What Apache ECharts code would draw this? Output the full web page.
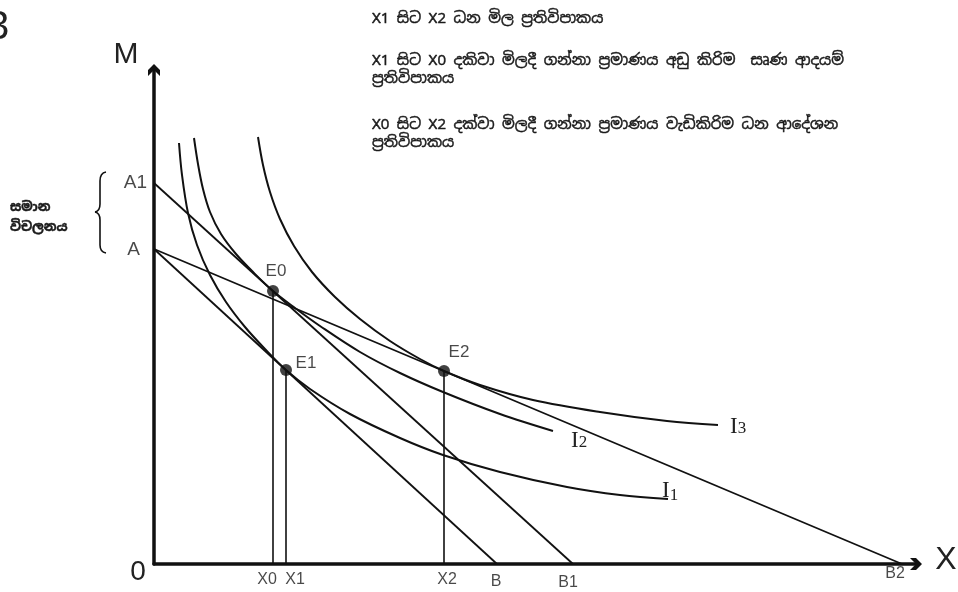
<!DOCTYPE html>
<html>
<head>
<meta charset="utf-8">
<script src="https://cdn.jsdelivr.net/npm/echarts@6/dist/echarts.min.js"></script>
<style>
html,body{margin:0;padding:0;background:#fff;}
#c{width:958px;height:592px;}
</style>
</head>
<body>
<div id="c"></div>
<script>
// ---- data (axis units) ----
const interceptA = 31.5;   // A  on M axis
const interceptA1 = 38.1;  // A1 on M axis
const interceptB = 34.3;   // B  on X axis
const interceptB1 = 41.9;  // B1 on X axis
const interceptB2 = 74.8;  // B2 on X axis

const pointNames = ['E0', 'E1', 'E2'];
const pointX = [11.9, 13.2, 29.0];
const pointY = [27.3, 19.4, 19.3];

const curveI1 = [[2.5,42.1],[2.8,38.9],[3.4,35.1],[4.3,31.9],[5.6,28.9],[7.2,26.2],[9.1,23.7],[11.1,21.5],[13.2,19.4],[15.6,17.5],[19.6,15.0],[24.6,12.6],[28.9,10.9],[34.6,9.2],[41.3,7.7],[46.6,6.9],[51.4,6.5]];
const curveI2 = [[4.0,42.6],[4.4,40.0],[4.9,37.5],[5.6,35.2],[6.7,33.0],[8.2,31.0],[10.0,29.1],[11.9,27.3],[14.1,25.6],[16.6,23.8],[20.6,21.2],[24.6,19.1],[28.9,17.2],[34.6,15.0],[39.9,13.3]];
const curveI3 = [[10.4,42.7],[10.9,39.9],[11.6,37.2],[12.6,34.5],[14.0,31.8],[15.8,29.2],[18.1,26.7],[20.6,24.5],[23.6,22.3],[26.6,20.5],[29.0,19.3],[32.6,17.9],[37.9,16.4],[44.6,15.2],[51.3,14.3],[56.4,13.9]];

const xTickLabels = ['X0', 'X1', 'X2', 'B', 'B1', 'B2'];
const xTickValues = [11.9, 13.2, 29.0, 34.3, 41.9, 74.8];
const yTickLabels = ['A', 'A1'];
const yTickValues = [31.5, 38.1];

const noteLines = [
  'X1 සිට X2 ධන මිල ප්‍රතිවිපාකය',
  'X1 සිට X0 දකිවා මිලදී ගන්නා ප්‍රමාණය අඩු කිරිම  සෘණ ආදයම්',
  'ප්‍රතිවිපාකය',
  'X0 සිට X2 දක්වා මිලදී ගන්නා ප්‍රමාණය වැඩිකිරිම ධන ආදේශන',
  'ප්‍රතිවිපාකය'
];
const braceLines = ['සමාන', 'විචලනය'];

// ---- styles ----
const INK = '#111';
const SIN = '"Noto Sans Sinhala","Iskoola Pota","Noto Sans","DejaVu Sans",sans-serif';
const LAB = '"Liberation Sans Narrow","Liberation Sans","DejaVu Sans",sans-serif';
const xLabelOffsets = [[-6,0],[9,0],[3,0],[-1,2],[-5,3],[-7,-6]];
const yLabelOffsets = [[-7,1],[0,0]];
const pointLabelOffsets = [[3,1],[20,14],[15,2]];
const noteY = [19, 61, 79, 125, 143];

function seg(data, w) {
  return {type: 'line', data: data, symbol: 'none', silent: true,
          lineStyle: {color: INK, width: w || 1.8}, z: 3};
}
function curve(data, sub, off, lower) {
  return {type: 'line', data: data, symbol: 'none', smooth: 0.35, silent: true,
          lineStyle: {color: INK, width: 2}, z: 3,
          endLabel: {show: true, formatter: '{i|I}{d|' + sub + '}', offset: off,
            rich: {i: {fontFamily: '"Liberation Serif","DejaVu Serif",serif', fontSize: 23, color: '#222'},
                   d: {fontFamily: '"Liberation Serif","DejaVu Serif",serif', fontSize: 17, color: '#222',
                       padding: [lower ? 10 : 4, 0, 0, 0]}}}};
}

const arrowUp = 'path://M5,0 L10,5 L10,10 L5,5 L0,10 L0,5 Z';
const braceStyle = {stroke: INK, fill: null, lineWidth: 1.6};
const noteStyle = {fill: '#1a1a1a', stroke: '#1a1a1a', lineWidth: 0.45, verticalAlign: 'middle'};

const option = {
  animation: false,
  backgroundColor: '#fff',
  grid: {left: 154, right: 40, top: 67, bottom: 28},
  xAxis: {type: 'value', min: 0, max: 76.4,
    axisLine: {show: true, onZero: false, lineStyle: {color: INK, width: 3.5},
      symbol: ['none', arrowUp], symbolSize: [20, 12], symbolOffset: [0, -2]},
    axisTick: {show: false}, axisLabel: {show: false}, splitLine: {show: false}},
  yAxis: {type: 'value', min: 0, max: 49.7,
    axisLine: {show: true, onZero: false, lineStyle: {color: INK, width: 3.5},
      symbol: ['none', arrowUp], symbolSize: [22, 12], symbolOffset: [0, -3]},
    axisTick: {show: false}, axisLabel: {show: false}, splitLine: {show: false}},
  series: [
    seg([[0, interceptA], [interceptB, 0]]),
    seg([[0, interceptA1], [interceptB1, 0]]),
    seg([[0, interceptA], [interceptB2, 0]]),
    seg([[pointX[0], pointY[0]], [pointX[0], 0]], 1.6),
    seg([[pointX[1], pointY[1]], [pointX[1], 0]], 1.6),
    seg([[pointX[2], pointY[2]], [pointX[2], 0]], 1.6),
    curve(curveI1, '1', [-14, -8], true),
    curve(curveI2, '2', [10, 10], false),
    curve(curveI3, '3', [4, 2], false),
    {type: 'scatter', silent: true, z: 5, symbolSize: 12, itemStyle: {color: INK},
      data: pointNames.map((n, i) => ({value: [pointX[i], pointY[i]], name: n,
        label: {offset: pointLabelOffsets[i]}})),
      label: {show: true, position: 'top', formatter: '{b}', distance: 6,
        fontFamily: LAB, fontSize: 17, color: '#1a1a1a'}},
    {type: 'scatter', silent: true, z: 5, symbolSize: 0,
      data: xTickLabels.map((n, i) => ({value: [xTickValues[i], 0], name: n,
        label: {offset: xLabelOffsets[i]}})),
      label: {show: true, position: 'bottom', formatter: '{b}', distance: 8,
        fontFamily: LAB, fontSize: 16, color: '#1a1a1a'}},
    {type: 'scatter', silent: true, z: 5, symbolSize: 0,
      data: yTickLabels.map((n, i) => ({value: [0, yTickValues[i]], name: n,
        label: {offset: yLabelOffsets[i]}})),
      label: {show: true, position: 'left', formatter: '{b}', distance: 7,
        fontFamily: LAB, fontSize: 19, color: '#1a1a1a'}}
  ],
  graphic: [
    {type: 'text', x: -13, y: 28, style: {text: '3', font: '300 40px "Liberation Sans",sans-serif', fill: '#222', verticalAlign: 'middle'}},
    {type: 'text', x: 126, y: 55, style: {text: 'M', font: '30px "Liberation Sans Narrow","Liberation Sans",sans-serif', fill: '#222', align: 'center', verticalAlign: 'middle'}},
    {type: 'text', x: 946, y: 560, style: {text: 'X', font: '32px "Liberation Sans Narrow","Liberation Sans",sans-serif', fill: '#222', align: 'center', verticalAlign: 'middle'}},
    {type: 'text', x: 138, y: 572, style: {text: '0', font: '28px "Liberation Sans Narrow","Liberation Sans",sans-serif', fill: '#222', align: 'center', verticalAlign: 'middle'}},
    {type: 'bezierCurve', shape: {x1: 106, y1: 172, cpx1: 100, cpy1: 173, x2: 100, y2: 181}, style: braceStyle},
    {type: 'line', shape: {x1: 100, y1: 181, x2: 100, y2: 204}, style: braceStyle},
    {type: 'bezierCurve', shape: {x1: 100, y1: 204, cpx1: 100, cpy1: 211, x2: 95, y2: 212}, style: braceStyle},
    {type: 'bezierCurve', shape: {x1: 95, y1: 212, cpx1: 100, cpy1: 213, x2: 100, y2: 220}, style: braceStyle},
    {type: 'line', shape: {x1: 100, y1: 220, x2: 100, y2: 245}, style: braceStyle},
    {type: 'bezierCurve', shape: {x1: 100, y1: 245, cpx1: 100, cpy1: 252, x2: 106, y2: 253}, style: braceStyle},
    {type: 'text', x: 10, y: 207, style: Object.assign({text: braceLines[0], font: 'bold 13px ' + SIN}, noteStyle)},
    {type: 'text', x: 10, y: 227, style: Object.assign({text: braceLines[1], font: 'bold 13px ' + SIN}, noteStyle)}
  ].concat(noteLines.map((t, i) => ({type: 'text', x: 372, y: noteY[i],
      style: Object.assign({text: t, font: '15px ' + SIN}, noteStyle)})))
};

const chart = echarts.init(document.getElementById('c'), null, {renderer: 'canvas'});
chart.setOption(option);
</script>
</body>
</html>
